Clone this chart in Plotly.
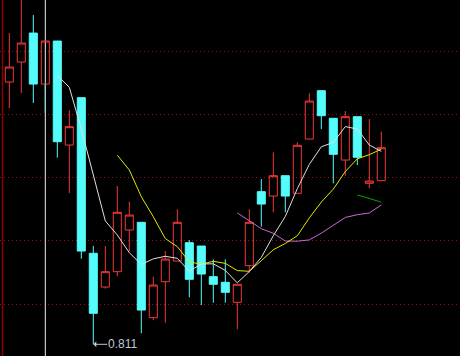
import plotly.graph_objects as go
import pandas as pd

# ---- data ----
idx = list(range(32))
opens = [1.0208, 1.0368, 1.0600, 1.0192, 1.0536, 0.9704, 1.0083, 0.8838, 0.8568, 0.8691,
         0.9024, 0.9086, 0.8323, 0.8611, 0.8776, 0.8923, 0.8896, 0.8651, 0.8606, 0.8446,
         0.8739, 0.9331, 0.9296, 0.9459, 0.9318, 0.9752, 1.0139, 0.9918, 0.9584, 0.9931,
         0.9398, 0.9419]
highs = [1.0600, 1.0912, 1.0744, 1.0536, 1.0536, 0.9984, 1.0083, 0.8896, 0.8896, 0.9376,
         0.9251, 0.9086, 0.8651, 0.8856, 0.9190, 0.8944, 0.8896, 0.8790, 0.8790, 0.8590,
         0.9190, 0.9432, 0.9646, 0.9459, 0.9726, 1.0118, 1.0139, 0.9918, 0.9976, 0.9931,
         0.9912, 0.9811]
lows = [1.0000, 1.0120, 1.0040, 0.9960, 0.9603, 0.9320, 0.8795, 0.8110, 0.8555, 0.8656,
        0.8856, 0.8198, 0.8304, 0.8283, 0.8776, 0.8486, 0.8424, 0.8443, 0.8443, 0.8230,
        0.8683, 0.9051, 0.9166, 0.9166, 0.9318, 0.9752, 0.9832, 0.9398, 0.9459, 0.9544,
        0.9358, 0.9419]
closes = [1.0328, 1.0520, 1.0192, 1.0536, 0.9731, 0.9851, 0.8856, 0.8358, 0.8691, 0.9166,
          0.9144, 0.8384, 0.8584, 0.8792, 0.9086, 0.8630, 0.8672, 0.8590, 0.8526, 0.8590,
          0.9086, 0.9232, 0.9459, 0.9296, 0.9702, 1.0056, 0.9939, 0.9630, 0.9931, 0.9606,
          0.9416, 0.9683]
ma_periods = [5, 10, 20, 30]
ma_colors = ["#e0e0e0", "#e6e600", "#d068d0", "#00a800"]
cursor_index = 3

s_close = pd.Series(closes)
mas = {p: s_close.rolling(p).mean().tolist() for p in ma_periods}

fig = go.Figure()

fig.add_trace(go.Candlestick(
    x=idx, open=opens, high=highs, low=lows, close=closes,
    increasing=dict(line=dict(color="#f03a3a", width=1), fillcolor="rgba(0,0,0,0)"),
    decreasing=dict(line=dict(color="#54fcfc", width=1), fillcolor="#54fcfc"),
    whiskerwidth=0, showlegend=False, hoverinfo="skip",
))

order = [20, 10, 5, 30]
for p in order:
    fig.add_trace(go.Scatter(
        x=idx, y=mas[p], mode="lines",
        line=dict(color=ma_colors[ma_periods.index(p)], width=1),
        showlegend=False, hoverinfo="skip",
    ))

# crosshair (white) at the cursor candle; XOR over its lower wick shows cyan
fig.add_shape(type="line", xref="x", yref="paper", x0=cursor_index, x1=cursor_index,
              y0=0, y1=1, line=dict(color="#f0f0f0", width=1), layer="below")
fig.add_trace(go.Scatter(
    x=[cursor_index, cursor_index], y=[opens[cursor_index], lows[cursor_index]],
    mode="lines", line=dict(color="#54fcfc", width=1), showlegend=False, hoverinfo="skip",
))

# left border line
fig.add_shape(type="line", xref="paper", yref="paper", x0=2.5 / 460, x1=2.5 / 460,
              y0=0, y1=1, line=dict(color="#8b0000", width=1.5))

# lowest low label
low_i = lows.index(min(lows))
fig.add_annotation(
    x=idx[low_i], y=lows[low_i], text=f"{lows[low_i]:.3f}",
    showarrow=True, arrowhead=1, arrowsize=1, arrowwidth=1, arrowcolor="#c0c8d0",
    ax=14, ay=0, xanchor="left", yanchor="middle", borderpad=0,
    font=dict(family="Liberation Sans, Arial", size=12, color="#c0c8d0"),
)

fig.update_layout(
    width=460, height=356,
    margin=dict(l=0, r=0, t=0, b=0),
    paper_bgcolor="#000000", plot_bgcolor="#000000",
    boxgap=0.33, boxgroupgap=0,
    xaxis=dict(range=[-0.775, 37.558], showgrid=False, zeroline=False,
               showticklabels=False, ticks="", rangeslider=dict(visible=False),
               fixedrange=True),
    yaxis=dict(range=[0.80164, 1.08644], showgrid=True, gridcolor="#a01010",
               griddash="1px,3px", gridwidth=1, tick0=1.04564, dtick=0.05064,
               zeroline=False, showticklabels=False, ticks="", fixedrange=True),
)

fig.write_html("out.html", config={"displayModeBar": False})
